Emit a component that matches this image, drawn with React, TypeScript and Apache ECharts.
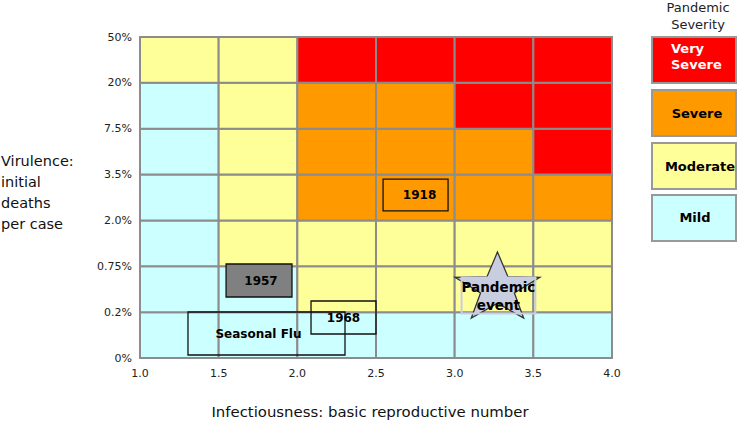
import React, { useEffect, useRef } from "react";
import * as echarts from "echarts";

// Axis tick labels
const xTicks = [1.0, 1.5, 2.0, 2.5, 3.0, 3.5, 4.0];
const yTickLabels = ["0%", "0.2%", "0.75%", "2.0%", "3.5%", "7.5%", "20%", "50%"];

// Severity per cell: rows from bottom (0–0.2%) to top (20–50%), columns 1.0–1.5 ... 3.5–4.0
// 0 = Mild, 1 = Moderate, 2 = Severe, 3 = Very Severe
const severityRows = [
  [0, 0, 0, 0, 0, 0],
  [0, 0, 1, 1, 1, 1],
  [0, 1, 1, 1, 1, 1],
  [0, 1, 2, 2, 2, 2],
  [0, 1, 2, 2, 2, 3],
  [0, 1, 2, 2, 3, 3],
  [1, 1, 3, 3, 3, 3],
];
const severityNames = ["Mild", "Moderate", "Severe", "Very\nSevere"];
const severityColors = ["#CCFFFF", "#FFFF99", "#FF9900", "#FF0000"];

// Historical pandemic annotations (in axis units)
const annotationLabels = ["Seasonal Flu", "1968", "1957", "1918"];
const annotationX = [
  [1.305, 2.303],
  [2.087, 2.5],
  [1.547, 1.966],
  [2.545, 2.958],
];
const annotationY = [
  [0.065, 1.003],
  [0.523, 1.243],
  [1.33, 2.05],
  [3.21, 3.9],
];
const annotationFills = ["none", "none", "#808080", "none"];

// Pandemic event star
const starLabel = "Pandemic\nevent";
const starCenter = [3.272, 1.515];

const FONT = '"DejaVu Sans", Verdana, sans-serif';

export default function App() {
  const ref = useRef<HTMLDivElement>(null);

  useEffect(() => {
    document.body.style.margin = "0";
    const chart = echarts.init(ref.current!, null, { renderer: "svg" });

    const cellData: number[][] = [];
    severityRows.forEach((row, r) => {
      row.forEach((s, c) => {
        cellData.push([xTicks[c], xTicks[c + 1], r, s]);
      });
    });

    const annData = annotationLabels.map((_, i) => [
      annotationX[i][0],
      annotationX[i][1],
      annotationY[i][0],
      annotationY[i][1],
      i,
    ]);

    const legendGraphics: any[] = [];
    const legendTops = [37, 90, 143, 195];
    [3, 2, 1, 0].forEach((s, i) => {
      legendGraphics.push({
        type: "rect",
        shape: { x: 652, y: legendTops[i], width: 84, height: 46 },
        style: { fill: severityColors[s], stroke: "#999999", lineWidth: 2 },
      });
    });
    legendGraphics.push(
      {
        type: "text",
        style: {
          text: severityNames[3],
          x: 671,
          y: 40,
          fill: "#ffffff",
          font: `bold 13px ${FONT}`,
          lineHeight: 16,
          align: "left",
          verticalAlign: "top",
        },
      },
      {
        type: "text",
        style: {
          text: severityNames[2],
          x: 697,
          y: 113,
          fill: "#000",
          font: `bold 13px ${FONT}`,
          align: "center",
          verticalAlign: "middle",
        },
      },
      {
        type: "text",
        style: {
          text: severityNames[1],
          x: 700,
          y: 166,
          fill: "#000",
          font: `bold 13px ${FONT}`,
          align: "center",
          verticalAlign: "middle",
        },
      },
      {
        type: "text",
        style: {
          text: severityNames[0],
          x: 695,
          y: 217,
          fill: "#000",
          font: `bold 13px ${FONT}`,
          align: "center",
          verticalAlign: "middle",
        },
      },
      {
        type: "text",
        style: {
          text: "Pandemic\nSeverity",
          x: 698,
          y: -1,
          fill: "#222",
          font: `13px ${FONT}`,
          lineHeight: 17,
          align: "center",
          verticalAlign: "top",
        },
      }
    );

    chart.setOption({
      animation: false,
      grid: { left: 140, right: 126, top: 37, bottom: 66, containLabel: false },
      xAxis: {
        type: "value",
        min: 1,
        max: 4,
        interval: 0.5,
        axisLine: { show: false },
        axisTick: { show: false },
        splitLine: { show: false },
        axisLabel: {
          formatter: (v: number) => v.toFixed(1),
          color: "#222",
          fontSize: 11,
          fontFamily: FONT,
          margin: 10,
        },
      },
      yAxis: {
        type: "value",
        min: 0,
        max: 7,
        interval: 1,
        axisLine: { show: false },
        axisTick: { show: false },
        splitLine: { show: false },
        axisLabel: {
          formatter: (v: number) => yTickLabels[Math.round(v)],
          color: "#222",
          fontSize: 11,
          fontFamily: FONT,
          margin: 8,
        },
      },
      graphic: [
        {
          type: "text",
          style: {
            text: "Virulence:\ninitial\ndeaths\nper case",
            x: 1,
            y: 150,
            fill: "#111",
            font: `14.5px ${FONT}`,
            lineHeight: 21,
            align: "left",
            verticalAlign: "top",
          },
        },
        {
          type: "text",
          style: {
            text: "Infectiousness: basic reproductive number",
            x: 370,
            y: 412,
            fill: "#111",
            font: `14.9px ${FONT}`,
            align: "center",
            verticalAlign: "middle",
          },
        },
        ...legendGraphics,
      ],
      series: [
        {
          type: "custom",
          data: cellData,
          encode: { x: [0, 1], y: 2 },
          renderItem: (params: any, api: any) => {
            const x0 = api.value(0);
            const x1 = api.value(1);
            const r = api.value(2);
            const s = api.value(3);
            const p0 = api.coord([x0, r + 1]);
            const p1 = api.coord([x1, r]);
            return {
              type: "rect",
              shape: { x: p0[0], y: p0[1], width: p1[0] - p0[0], height: p1[1] - p0[1] },
              style: { fill: severityColors[s], stroke: "#8c8c8c", lineWidth: 2 },
            };
          },
        },
        {
          type: "custom",
          data: annData,
          encode: { x: [0, 1], y: [2, 3] },
          z: 3,
          renderItem: (params: any, api: any) => {
            const i = api.value(4);
            const p0 = api.coord([api.value(0), api.value(3)]);
            const p1 = api.coord([api.value(1), api.value(2)]);
            return {
              type: "rect",
              shape: { x: p0[0], y: p0[1], width: p1[0] - p0[0], height: p1[1] - p0[1] },
              style: {
                fill: annotationFills[i],
                stroke: "#111",
                lineWidth: 1.3,
              },
            };
          },
        },
        {
          type: "custom",
          data: annData,
          encode: { x: [0, 1], y: [2, 3] },
          z: 4,
          renderItem: (params: any, api: any) => {
            const i = api.value(4);
            const p0 = api.coord([api.value(0), api.value(3)]);
            const p1 = api.coord([api.value(1), api.value(2)]);
            const dx = i === 0 ? -8 : i === 3 ? 4 : i === 2 ? 2 : 0;
            return {
              type: "text",
              style: {
                text: annotationLabels[i],
                x: (p0[0] + p1[0]) / 2 + dx,
                y: (p0[1] + p1[1]) / 2,
                fill: "#000",
                font: `bold 12px ${FONT}`,
                align: "center",
                verticalAlign: "middle",
              },
            };
          },
        },
        {
          type: "custom",
          data: [starCenter],
          encode: { x: 0, y: 1 },
          z: 5,
          renderItem: (params: any, api: any) => {
            const c = api.coord([api.value(0), api.value(1)]);
            const R = 36.5;
            const sx = 1.22;
            const pts: number[][] = [];
            for (let k = 0; k < 10; k++) {
              const a = -Math.PI / 2 + (k * Math.PI) / 5;
              const rr = k % 2 === 0 ? R : R * 0.4;
              pts.push([c[0] + rr * Math.cos(a) * sx, c[1] + rr * Math.sin(a)]);
            }
            return {
              type: "group",
              children: [
                {
                  type: "polygon",
                  shape: { points: pts },
                  style: { fill: "#C9CDE0", stroke: "#333", lineWidth: 1.3 },
                },
                {
                  type: "text",
                  style: {
                    text: starLabel,
                    x: c[0] + 1,
                    y: c[1] + 7,
                    fill: "#000",
                    font: `bold 13.5px ${FONT}`,
                    lineHeight: 18,
                    align: "center",
                    verticalAlign: "middle",
                    textBorderColor: "#C9CDE0",
                    textBorderWidth: 2,
                  },
                },
              ],
            };
          },
        },
      ],
    });

    return () => chart.dispose();
  }, []);

  return <div ref={ref} style={{ width: 738, height: 424 }} />;
}
